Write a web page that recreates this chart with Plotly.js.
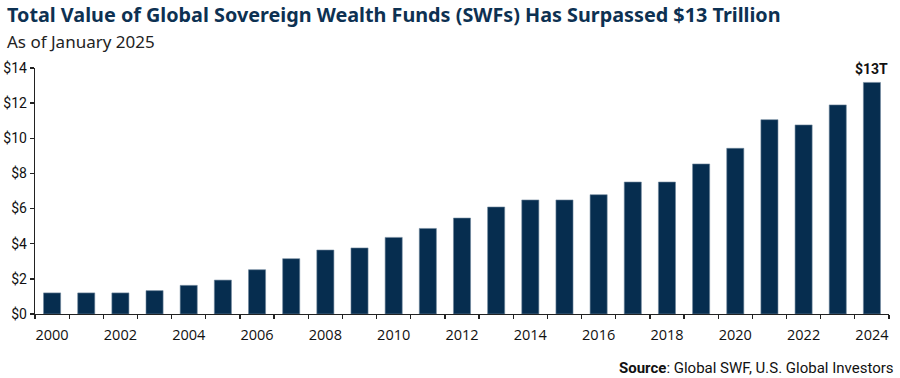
<!DOCTYPE html>
<html>
<head>
<meta charset="utf-8">
<script src="https://cdn.plot.ly/plotly-3.0.1.min.js"></script>
<style>
html,body{margin:0;padding:0;background:#fff;}
#chart{width:900px;height:378px;}
</style>
</head>
<body>
<div id="chart"></div>
<script>
const years = [2000,2001,2002,2003,2004,2005,2006,2007,2008,2009,2010,2011,2012,2013,2014,2015,2016,2017,2018,2019,2020,2021,2022,2023,2024];
const values = [1.2,1.2,1.2,1.33,1.63,1.93,2.52,3.15,3.64,3.76,4.36,4.87,5.46,6.09,6.49,6.49,6.79,7.51,7.51,8.54,9.43,11.06,10.76,11.9,13.18];
const xTickYears = [2000,2002,2004,2006,2008,2010,2012,2014,2016,2018,2020,2022,2024];
const yTicks = [0,2,4,6,8,10,12,14];
const yTickLabels = yTicks.map(v => '$' + v);
const lastLabel = '$13T';

const navy = '#062d4f';
const trace = {
  type: 'bar',
  x: years,
  y: values,
  marker: {color: navy, line: {color: '#6f879c', width: 0.6}},
  width: 0.5,
  hoverinfo: 'x+y'
};

const layout = {
  width: 900, height: 378,
  margin: {l: 35, r: 11, t: 68, b: 64},
  paper_bgcolor: '#fff', plot_bgcolor: '#fff',
  showlegend: false,
  font: {family: 'Roboto, sans-serif', color: '#111'},
  xaxis: {
    type: 'linear',
    range: [1999.5, 2024.5],
    tickvals: xTickYears,
    ticktext: xTickYears.map(String),
    ticks: '',
    showline: true, linecolor: '#222', linewidth: 1.3,
    showgrid: false, zeroline: false,
    tickfont: {family: '"Open Sans", sans-serif', size: 14.5, color: '#111'},
    ticklabelstandoff: 7,
    minor: {tick0: 1999.5, dtick: 1, ticks: 'outside', ticklen: 4, tickwidth: 1.3, tickcolor: '#222', showgrid: false}
  },
  yaxis: {
    range: [0, 14],
    tickvals: yTicks,
    ticktext: yTickLabels,
    ticks: 'outside', ticklen: 4, tickwidth: 1.3, tickcolor: '#222',
    showline: true, linecolor: '#222', linewidth: 1.3,
    showgrid: false, zeroline: false,
    tickfont: {family: '"Liberation Sans Narrow", "Roboto", sans-serif', size: 14, color: '#111'},
    ticklabelstandoff: 0
  },
  annotations: [
    {xref: 'x', yref: 'y', x: years[years.length-1], y: values[values.length-1], text: '<b>' + lastLabel + '</b>',
     showarrow: false, yanchor: 'bottom', yshift: 3,
     font: {family: '"Liberation Sans Narrow", Roboto, sans-serif', size: 14, color: '#111'}},
    {xref: 'paper', yref: 'paper', x: -35/854, y: 1, yshift: 69, xshift: 5, xanchor: 'left', yanchor: 'top',
     text: '<b>Total Value of Global Sovereign Wealth Funds (SWFs) Has Surpassed $13 Trillion</b>',
     showarrow: false, font: {family: '"Noto Sans", sans-serif', size: 19.8, color: '#0d3152'}},
    {xref: 'paper', yref: 'paper', x: -35/854, y: 1, yshift: 40, xshift: 5, xanchor: 'left', yanchor: 'top',
     text: 'As of January 2025',
     showarrow: false, font: {family: '"Noto Sans", sans-serif', size: 17, color: '#222'}},
    {xref: 'paper', yref: 'paper', x: 1, y: 0, yshift: -43, xshift: 7, xanchor: 'right', yanchor: 'top',
     text: '<b>Source</b>: Global SWF, U.S. Global Investors',
     showarrow: false, font: {family: 'Roboto, sans-serif', size: 15, color: '#111'}}
  ]
};

Plotly.newPlot('chart', [trace], layout, {displayModeBar: false, staticPlot: true});
</script>
</body>
</html>
